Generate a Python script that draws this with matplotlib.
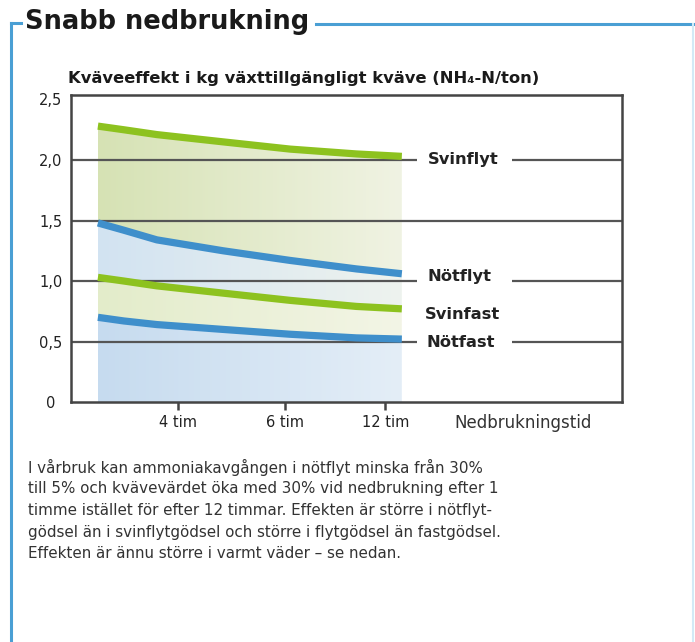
import numpy as np
import matplotlib
matplotlib.use("Agg")
from matplotlib import pyplot as plt
from matplotlib.patches import Polygon
from matplotlib.colors import to_rgb

plt.rcParams['font.family'] = ['DejaVu Sans']

# positions along the time axis (axis units); ticks at 4, 6 and 12 tim
curve_x = [0.26, 0.51, 0.83, 1.47, 2.12, 2.76, 3.20]
tick_x = [1.03, 2.07, 3.04]
tick_labels = ["4 tim", "6 tim", "12 tim"]

# kg NH4-N per ton
svinflyt = [2.28, 2.25, 2.21, 2.15, 2.09, 2.05, 2.03]
notflyt = [1.48, 1.42, 1.34, 1.25, 1.17, 1.10, 1.06]
svinfast = [1.03, 1.00, 0.96, 0.90, 0.84, 0.79, 0.77]
notfast = [0.70, 0.67, 0.64, 0.60, 0.56, 0.53, 0.52]

y_ticks = [0, 0.5, 1.0, 1.5, 2.0, 2.5]
y_labels = ["0", "0,5", "1,0", "1,5", "2,0", "2,5"]

body = [
    "I vårbruk kan ammoniakavgången i nötflyt minska från 30%",
    "till 5% och kvävevärdet öka med 30% vid nedbrukning efter 1",
    "timme istället för efter 12 timmar. Effekten är större i nötflyt-",
    "gödsel än i svinflytgödsel och större i flytgödsel än fastgödsel.",
    "Effekten är ännu större i varmt väder – se nedan.",
]

GREEN = "#8dc21f"
BLUE = "#3f8fcb"
FRAME = "#4a9fd4"
GRID = "#555555"


def gradient_band(ax, x, upper, lower, left_color, right_color):
    x = np.asarray(x)
    upper = np.asarray(upper)
    lower = np.asarray(lower)
    c0 = np.array(to_rgb(left_color))
    c1 = np.array(to_rgb(right_color))
    t = np.linspace(0, 1, 256)[None, :, None]
    img = c0 + (c1 - c0) * t
    img = np.repeat(img, 2, axis=0)
    im = ax.imshow(img, extent=[x[0], x[-1], lower.min(), upper.max()],
                   aspect='auto', origin='lower', zorder=1, interpolation='bilinear')
    verts = np.concatenate([np.column_stack([x, upper]),
                            np.column_stack([x[::-1], lower[::-1]])])
    poly = Polygon(verts, closed=True, facecolor='none', edgecolor='none')
    ax.add_patch(poly)
    im.set_clip_path(poly)


fig = plt.figure(figsize=(6.95, 6.42), dpi=100)
ax = fig.add_axes([0.1022, 0.3738, 0.7928, 0.4782])

zeros = [0] * len(curve_x)
gradient_band(ax, curve_x, svinflyt, notflyt, "#d6e2b4", "#f0f3e3")
gradient_band(ax, curve_x, notflyt, svinfast, "#d2e3f2", "#eef3ee")
gradient_band(ax, curve_x, svinfast, notfast, "#e3ecca", "#f3f5e6")
gradient_band(ax, curve_x, notfast, zeros, "#c6dbef", "#e4eef7")

# grid lines, broken where the series labels sit
for v in [0.5, 1.0, 2.0]:
    ax.hlines(v, 0, 3.35, color=GRID, lw=1.6, zorder=2)
    ax.hlines(v, 4.27, 5.33, color=GRID, lw=1.6, zorder=2)
ax.hlines(1.5, 0, 5.33, color=GRID, lw=1.6, zorder=2)

for series, color in [(svinflyt, GREEN), (notflyt, BLUE), (svinfast, GREEN), (notfast, BLUE)]:
    ax.plot(curve_x, series, color=color, lw=5.2, solid_capstyle='butt',
            solid_joinstyle='round', zorder=3)

label_font = dict(fontsize=11.8, fontweight='bold', color="#222222", va='center', ha='left')
ax.text(3.45, 2.0, "Svinflyt", **label_font)
ax.text(3.45, 1.04, "Nötflyt", **label_font)
ax.text(3.42, 0.72, "Svinfast", **label_font)
ax.text(3.44, 0.49, "Nötfast", **label_font)

ax.set_xlim(0, 5.33)
ax.set_ylim(0, 2.537)
ax.set_xticks(tick_x)
ax.set_xticklabels(tick_labels, fontsize=10.5, color="#222222")
ax.set_yticks(y_ticks)
ax.set_yticklabels(y_labels, fontsize=10.5, color="#222222", ha='center')
ax.tick_params(axis='x', length=6, width=1.8, color="#444444", pad=3)
ax.tick_params(axis='y', length=0, pad=14.5)
for spine in ax.spines.values():
    spine.set_color("#444444")
    spine.set_linewidth(1.8)

ax.text(3.71, -0.068, "Nedbrukningstid", transform=ax.get_xaxis_transform(),
        fontsize=12, color="#333333", va='center', ha='left')

fig.text(0.0978, 0.8785, "Kväveeffekt i kg växttillgängligt kväve (NH₄-N/ton)",
         fontsize=11.8, fontweight='bold', color="#1a1a1a", va='center', ha='left')
fig.text(0.036, 0.9657, "Snabb nedbrukning", fontsize=18.5, fontweight='bold',
         color="#1a1a1a", va='center', ha='left')

# blue frame
fig.add_artist(plt.Line2D([316 / 695, 1.0], [1 - 24 / 642] * 2, color=FRAME, lw=2.2))
fig.add_artist(plt.Line2D([11 / 695, 11 / 695], [0, 1 - 23 / 642], color=FRAME, lw=2.2))
fig.add_artist(plt.Line2D([11 / 695, 21 / 695], [1 - 23 / 642] * 2, color=FRAME, lw=2.2))
fig.add_artist(plt.Line2D([693 / 695, 693 / 695], [0, 1 - 24 / 642], color="#d2eaf6", lw=1.5))

for i, line in enumerate(body):
    fig.text(28 / 695, 1 - (467 + i * 21.7) / 642, line, fontsize=10.9,
             color="#333333", va='center', ha='left')

fig.savefig("out.png", dpi=100)
